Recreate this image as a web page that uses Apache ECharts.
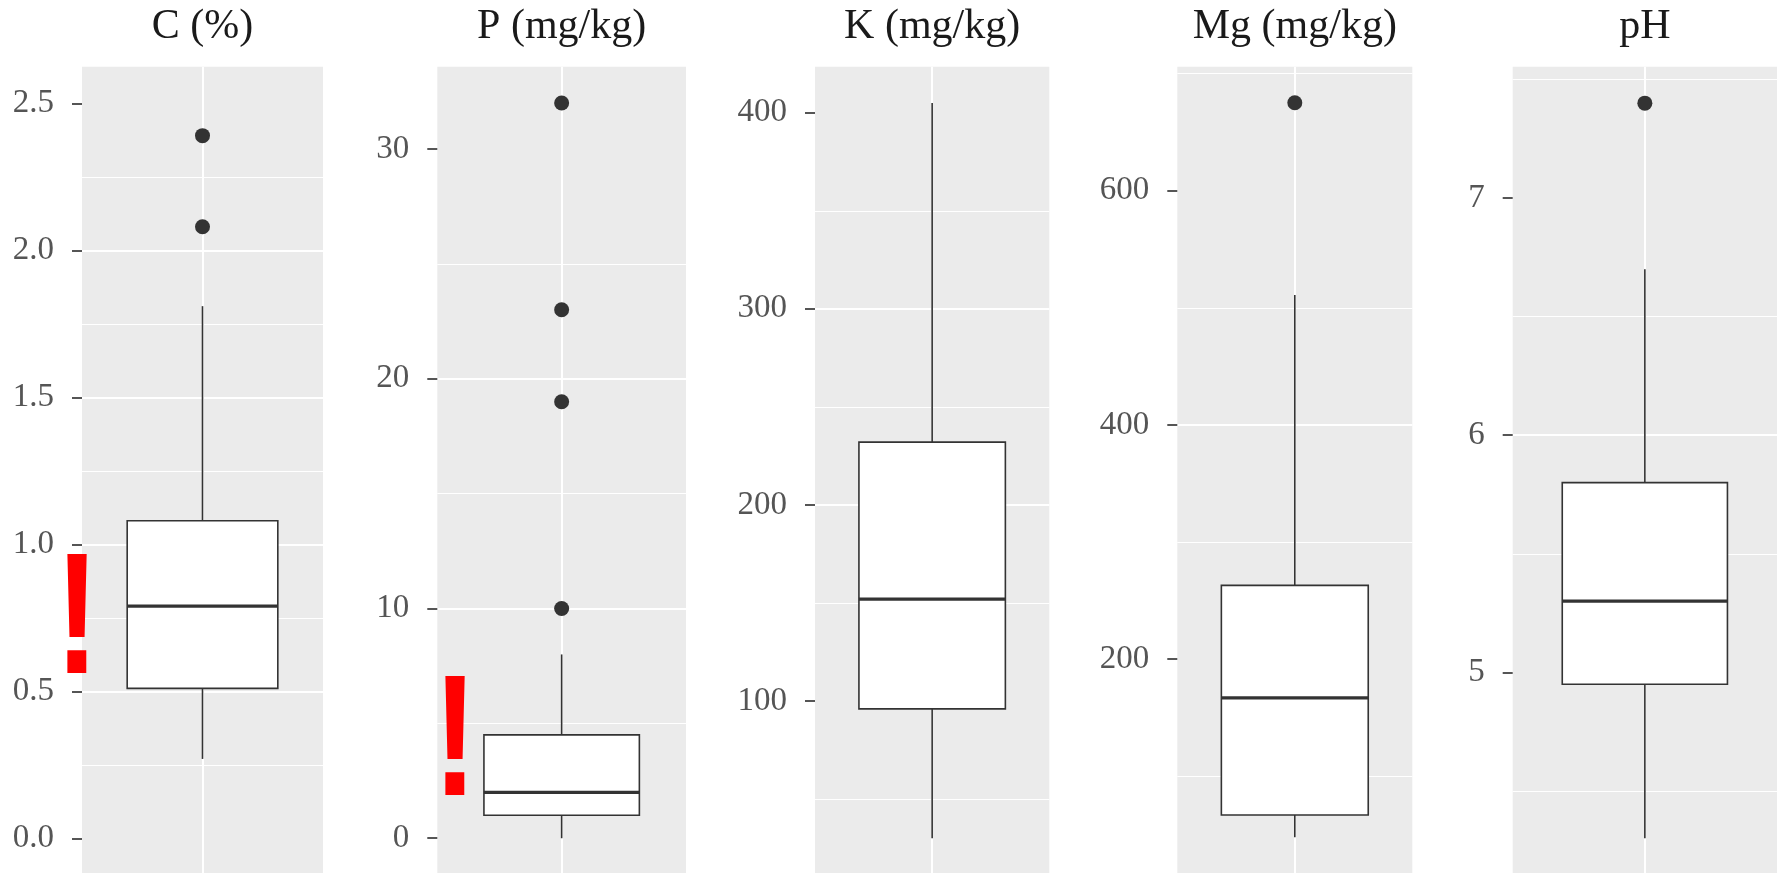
<!DOCTYPE html>
<html>
<head>
<meta charset="utf-8">
<script src="https://cdn.jsdelivr.net/npm/echarts@6/dist/echarts.min.js"></script>
<style>
html,body{margin:0;padding:0;background:#fff;}
#chart{width:1777px;height:873px;}
</style>
</head>
<body>
<div id="chart"></div>
<script>
// ---- data ----
const panelTitles = ['C (%)', 'P (mg/kg)', 'K (mg/kg)', 'Mg (mg/kg)', 'pH'];
// box stats: [lower whisker, Q1, median, Q3, upper whisker]
const boxC  = [0.27, 0.51, 0.79, 1.08, 1.81];
const boxP  = [0, 1, 2, 4.5, 8];
const boxK  = [30, 96, 152, 232, 405];
const boxMg = [48, 67, 167, 263, 511];
const boxPH = [4.3, 4.95, 5.3, 5.8, 6.7];
// outliers
const outC  = [2.39, 2.08];
const outP  = [32, 23, 19, 10];
const outK  = [];
const outMg = [675];
const outPH = [7.4];
// tick labels
const ticksC  = [0, 0.5, 1.0, 1.5, 2.0, 2.5];
const ticksP  = [0, 10, 20, 30];
const ticksK  = [100, 200, 300, 400];
const ticksMg = [200, 400, 600];
const ticksPH = [5, 6, 7];

const boxes = [boxC, boxP, boxK, boxMg, boxPH];
const outliers = [outC, outP, outK, outMg, outPH];
const ticks = [ticksC, ticksP, ticksK, ticksMg, ticksPH];

// ---- layout (positions / scales) ----
const W = 1777;
const layout = [
  {left: 82,     right: W - 323,    min: -0.5, max: 2.6245, interval: 0.5, bottom: -112.3, dec: 1},
  {left: 437.3,  right: W - 686,    min: -10,  max: 33.58,  interval: 10,  bottom: -195.0, dec: 0},
  {left: 815,    right: W - 1049.3, min: 0,    max: 423.46, interval: 100, bottom: -24.1,  dec: 0},
  {left: 1177.3, right: W - 1412.3, min: 0,    max: 705.8,  interval: 200, bottom: -20.5,  dec: 0},
  {left: 1512.7, right: 0,          min: 4,    max: 7.5537, interval: 1,   bottom: -36.5,  dec: 0}
];
const TOP = 66.7;

const chart = echarts.init(document.getElementById('chart'), null, {renderer: 'canvas'});

function renderBox(params, api) {
  const x = api.value(0);
  const lo = api.coord([x, api.value(1)]);
  const q1 = api.coord([x, api.value(2)]);
  const med = api.coord([x, api.value(3)]);
  const q3 = api.coord([x, api.value(4)]);
  const hi = api.coord([x, api.value(5)]);
  const w = api.size([0.75, 0])[0];
  const cx = lo[0];
  const stroke = '#333333';
  return {
    type: 'group',
    children: [
      {type: 'line', shape: {x1: cx, y1: hi[1], x2: cx, y2: q3[1]}, style: {stroke: stroke, lineWidth: 1.6}},
      {type: 'line', shape: {x1: cx, y1: q1[1], x2: cx, y2: lo[1]}, style: {stroke: stroke, lineWidth: 1.6}},
      {type: 'rect', shape: {x: cx - w / 2, y: q3[1], width: w, height: q1[1] - q3[1]},
        style: {fill: '#ffffff', stroke: stroke, lineWidth: 1.6}},
      {type: 'line', shape: {x1: cx - w / 2, y1: med[1], x2: cx + w / 2, y2: med[1]},
        style: {stroke: stroke, lineWidth: 3.2}}
    ]
  };
}

const grid = [], xAxis = [], yAxis = [], series = [], title = [];
layout.forEach((L, i) => {
  grid.push({
    left: L.left, right: L.right, top: TOP, bottom: L.bottom,
    show: true, backgroundColor: '#EBEBEB', borderWidth: 0,
    containLabel: false, outerBoundsMode: 'none'
  });
  xAxis.push({
    type: 'value', gridIndex: i, min: -0.6, max: 0.6, interval: 0.6,
    axisLine: {show: false, onZero: false}, axisTick: {show: false}, axisLabel: {show: false},
    splitLine: {show: true, showMinLine: false, showMaxLine: false,
      lineStyle: {color: '#ffffff', width: 2}}
  });
  yAxis.push({
    type: 'value', gridIndex: i, min: L.min, max: L.max, interval: L.interval,
    position: 'left',
    axisLine: {show: false, onZero: false},
    axisTick: {show: true, length: 10, customValues: ticks[i],
      lineStyle: {color: '#555555', width: 2}},
    axisLabel: {
      show: true, customValues: ticks[i], margin: 28,
      color: '#555555', fontFamily: 'Liberation Serif', fontSize: 33,
      formatter: (v) => Number(v).toFixed(L.dec)
    },
    splitLine: {show: true, showMinLine: false, showMaxLine: false,
      lineStyle: {color: '#ffffff', width: 2}},
    minorTick: {show: false, splitNumber: 2},
    minorSplitLine: {show: true, lineStyle: {color: '#ffffff', width: 1}}
  });
  series.push({
    name: panelTitles[i] + ' box',
    type: 'custom', xAxisIndex: i, yAxisIndex: i,
    renderItem: renderBox,
    encode: {x: 0, y: [1, 2, 3, 4, 5]},
    data: [[0].concat(boxes[i])],
    z: 3
  });
  series.push({
    name: panelTitles[i] + ' outliers',
    type: 'scatter', xAxisIndex: i, yAxisIndex: i,
    symbol: 'circle', symbolSize: 15,
    itemStyle: {color: '#333333', opacity: 1},
    data: outliers[i].map(v => [0, v]),
    z: 4
  });
  const cx = L.left + (W - L.right - L.left) / 2;
  title.push({
    text: panelTitles[i], left: cx, top: 6, textAlign: 'center', padding: 0,
    textStyle: {fontFamily: 'Liberation Serif', fontSize: 42, fontWeight: 'normal', color: '#1a1a1a'}
  });
});

const bangStyle = {
  text: '!', fill: '#ff0000', font: 'bold 172px "Liberation Sans"',
  textAlign: 'center', textVerticalAlign: 'middle', align: 'center', verticalAlign: 'middle'
};
const option = {
  animation: false,
  backgroundColor: '#ffffff',
  title: title,
  grid: grid,
  xAxis: xAxis,
  yAxis: yAxis,
  series: series,
  graphic: [
    {type: 'text', x: 77, y: 626, scaleX: 0.78, z: 100, style: Object.assign({}, bangStyle)},
    {type: 'text', x: 455, y: 748, scaleX: 0.78, z: 100, style: Object.assign({}, bangStyle)}
  ]
};
chart.setOption(option);
</script>
</body>
</html>
